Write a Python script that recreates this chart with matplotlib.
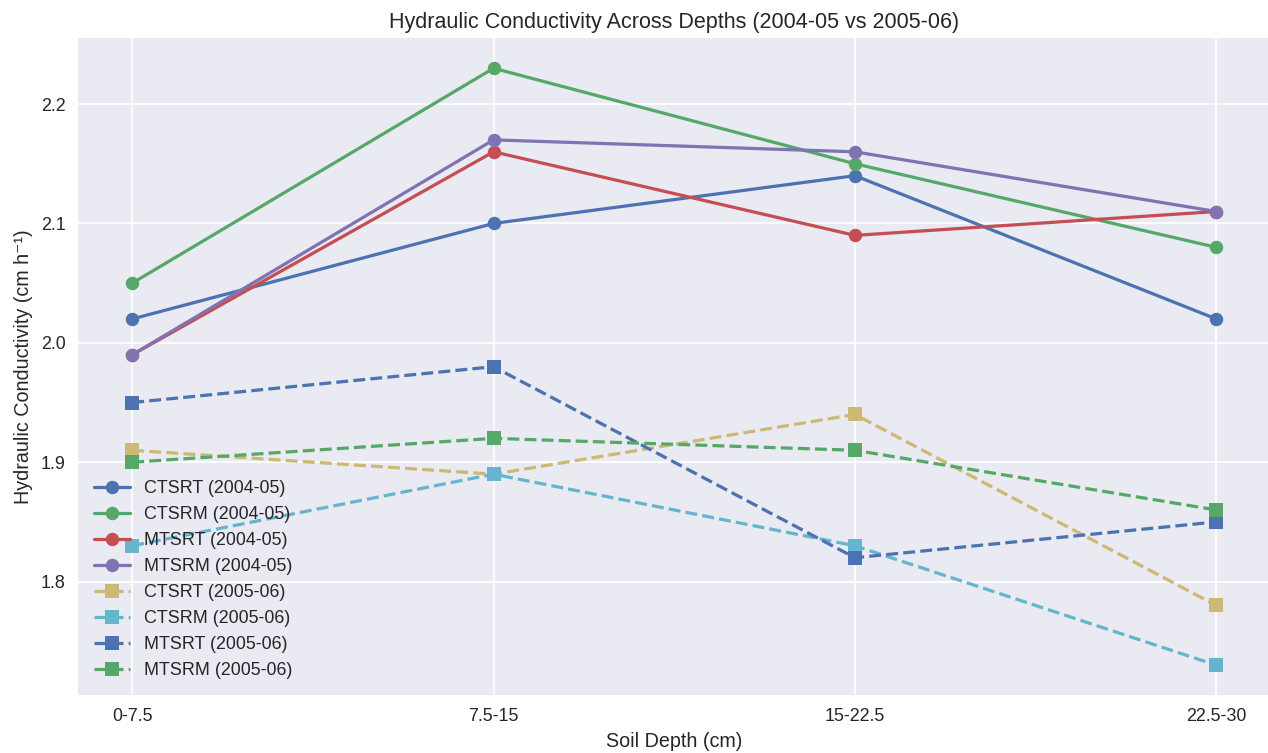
import matplotlib
matplotlib.use("Agg")
import matplotlib.pyplot as plt

plt.style.use("seaborn-v0_8")
plt.rcParams["font.family"] = ["Liberation Sans", "DejaVu Sans"]

depths = ["0-7.5", "7.5-15", "15-22.5", "22.5-30"]

# 2004-05 season
ctsrt_0405 = [2.02, 2.10, 2.14, 2.02]
ctsrm_0405 = [2.05, 2.23, 2.15, 2.08]
mtsrt_0405 = [1.99, 2.16, 2.09, 2.11]
mtsrm_0405 = [1.99, 2.17, 2.16, 2.11]

# 2005-06 season
ctsrt_0506 = [1.91, 1.89, 1.94, 1.78]
ctsrm_0506 = [1.83, 1.89, 1.83, 1.73]
mtsrt_0506 = [1.95, 1.98, 1.82, 1.85]
mtsrm_0506 = [1.90, 1.92, 1.91, 1.86]

series_0405 = {
    "CTSRT": ctsrt_0405,
    "CTSRM": ctsrm_0405,
    "MTSRT": mtsrt_0405,
    "MTSRM": mtsrm_0405,
}
series_0506 = {
    "CTSRT": ctsrt_0506,
    "CTSRM": ctsrm_0506,
    "MTSRT": mtsrt_0506,
    "MTSRM": mtsrm_0506,
}

scale = 1.29
fig, ax = plt.subplots(figsize=(12.68 / scale, 7.53 / scale), dpi=100 * scale)

for name, vals in series_0405.items():
    ax.plot(depths, vals, "o-", label=f"{name} (2004-05)", linewidth=1.8, markersize=7.5)
for name, vals in series_0506.items():
    ax.plot(depths, vals, "s--", label=f"{name} (2005-06)", linewidth=1.8, markersize=7.5)

ax.set_title("Hydraulic Conductivity Across Depths (2004-05 vs 2005-06)")
ax.set_xlabel("Soil Depth (cm)")
ax.set_ylabel("Hydraulic Conductivity (cm h⁻¹)")
ax.legend(loc="lower left")

fig.subplots_adjust(left=0.0615, right=1.002, top=0.949, bottom=0.077)
fig.savefig("out.png", dpi=100 * scale)
plt.close(fig)
